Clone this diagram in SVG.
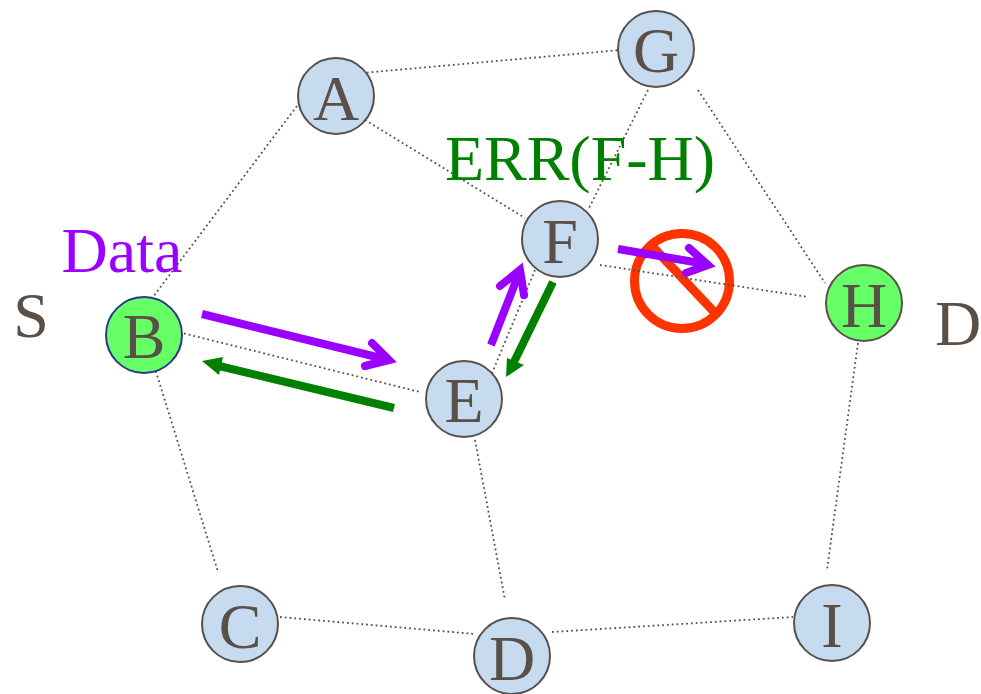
<svg xmlns="http://www.w3.org/2000/svg" width="981" height="694" viewBox="0 0 981 694">
<style>
.n{fill:#c6dbef;stroke:#5a5048;stroke-width:2}
.g{fill:#66ff66;stroke:#2a3a8c;stroke-width:2}
.l{font-family:"Liberation Serif",serif;font-size:64px;fill:#5a5048;text-anchor:middle}
.e{stroke:#5a5048;stroke-width:1.8;stroke-dasharray:1.8 3;fill:none}
.p{stroke:#9900ff;stroke-width:8;fill:none}
.h{stroke:#9900ff;stroke-width:8;fill:none;stroke-linecap:round;stroke-linejoin:miter}
.q{stroke:#008000;stroke-width:8;fill:none}
.r{fill:#008000}
</style>
<rect width="981" height="694" fill="#fff"/>
<g id="forbidden"><circle cx="682" cy="281" r="47.5" fill="none" stroke="#ff3300" stroke-width="9"/><line x1="653" y1="247" x2="716" y2="314" stroke="#ff3300" stroke-width="9"/></g>
<g id="connectors">
<line class="e" x1="362" y1="73" x2="620" y2="50"/>
<line class="e" x1="365" y1="120" x2="525" y2="218"/>
<line class="e" x1="297" y1="106" x2="153" y2="297"/>
<line class="e" x1="648" y1="90" x2="588" y2="210"/>
<line class="e" x1="698" y1="90" x2="825" y2="283"/>
<line class="e" x1="600" y1="265" x2="808" y2="297"/>
<line class="e" x1="170" y1="330" x2="420" y2="392"/>
<line class="e" x1="153" y1="362" x2="218" y2="572"/>
<line class="e" x1="490" y1="378" x2="535" y2="270"/>
<line class="e" x1="475" y1="440" x2="505" y2="600"/>
<line class="e" x1="280" y1="617" x2="475" y2="634"/>
<line class="e" x1="552" y1="632" x2="793" y2="617"/>
<line class="e" x1="858" y1="343" x2="827" y2="570"/>
<line class="p" x1="202" y1="314" x2="387" y2="359.500"/><path class="h" d="M372 343L389 360L365 366"/>
<line class="q" x1="394" y1="408" x2="215" y2="365"/><path class="r" d="M202 361L223 357L219 375Z"/>
<line class="p" x1="491" y1="345" x2="518" y2="276"/><path class="h" d="M500 286L520 270L524 295"/>
<line class="q" x1="553" y1="282" x2="512" y2="366"/><path class="r" d="M506 377L507 358L524 365Z"/>
<line class="p" x1="618" y1="249" x2="706" y2="264"/><path class="h" d="M689 248L708 265L686 273"/>
</g>
<g id="A"><circle class="n" cx="336" cy="96" r="38"/><text class="l" x="336" y="120">A</text></g>
<g id="G"><circle class="n" cx="656" cy="49" r="38"/><text class="l" x="656" y="72">G</text></g>
<g id="F"><circle class="n" cx="560" cy="239" r="38"/><text class="l" x="560" y="263">F</text></g>
<g id="B"><circle class="g" cx="144" cy="335" r="38"/><text class="l" x="144" y="358">B</text></g>
<g id="E"><circle class="n" cx="464" cy="399" r="38"/><text class="l" x="464" y="422">E</text></g>
<g id="H"><circle class="n" style="fill:#66ff66" cx="864" cy="303" r="38"/><text class="l" x="864" y="327">H</text></g>
<g id="C"><circle class="n" cx="240" cy="624" r="38"/><text class="l" x="240" y="648">C</text></g>
<g id="D"><circle class="n" cx="512" cy="656" r="38"/><text class="l" x="512" y="680">D</text></g>
<g id="I"><circle class="n" cx="832" cy="623" r="38"/><text class="l" x="832" y="647">I</text></g>
<g id="labels">
<text class="l" x="31" y="337">S</text>
<text class="l" x="958" y="345">D</text>
<text class="l" x="122" y="272" style="fill:#9900ff">Data</text>
<text class="l" x="580" y="180" style="fill:#008000">ERR(F-H)</text>
</g>
</svg>
